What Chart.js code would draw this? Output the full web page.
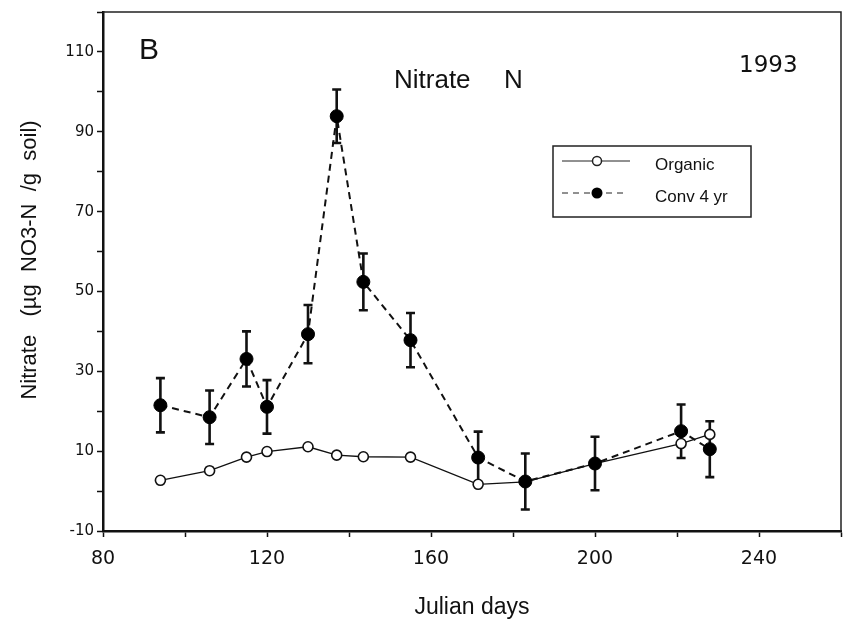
<!DOCTYPE html>
<html>
<head>
<meta charset="utf-8">
<script src="https://cdn.jsdelivr.net/npm/chart.js@4.4.1/dist/chart.umd.min.js"></script>
<style>
html,body{margin:0;padding:0;background:#fff}
</style>
</head>
<body>
<canvas id="myChart" width="857" height="624"></canvas>
<script>
// values
const days = [94, 106, 115, 120, 130, 137, 143.5, 155, 171.5, 183, 200, 221, 228]
const organic = [2.7, 5.1, 8.5, 9.9, 11.1, 9.0, 8.6, 8.5, 1.7, 2.3, 6.9, 11.9, 14.2]
const conv = [21.5, 18.5, 33.1, 21.1, 39.3, 93.9, 52.4, 37.8, 8.4, 2.4, 6.9, 15.0, 10.5]
const convErr = [6.8, 6.7, 6.9, 6.7, 7.3, 6.7, 7.1, 6.8, 6.5, 7.0, 6.7, 6.7, 7.0]
const xLabels = [80, 120, 160, 200, 240]
const yLabels = [-10, 10, 30, 50, 70, 90, 110]

const FONT = '"Liberation Sans", Arial, sans-serif'
const WIDE = '"DejaVu Sans", sans-serif'

// error bars for the conv series
const errorBars = {
    id: 'errorBars',
    beforeDatasetsDraw(chart){
        const ctx = chart.ctx
        const y = chart.scales.y
        const meta = chart.getDatasetMeta(0)
        ctx.save()
        ctx.strokeStyle = '#111'
        ctx.lineWidth = 2.6
        meta.data.forEach((pt, i) => {
            const top = y.getPixelForValue(conv[i] + convErr[i])
            const bot = y.getPixelForValue(conv[i] - convErr[i])
            ctx.beginPath()
            ctx.moveTo(pt.x, top); ctx.lineTo(pt.x, bot)
            ctx.moveTo(pt.x - 4.5, top); ctx.lineTo(pt.x + 4.5, top)
            ctx.moveTo(pt.x - 4.5, bot); ctx.lineTo(pt.x + 4.5, bot)
            ctx.stroke()
        })
        ctx.restore()
    }
}

// frame, panel texts, y title and the boxed legend
const decor = {
    id: 'decor',
    afterDraw(chart){
        const ctx = chart.ctx
        const a = chart.chartArea
        ctx.save()
        ctx.strokeStyle = '#222'
        ctx.lineWidth = 1.5
        ctx.beginPath()
        ctx.moveTo(a.left, a.top); ctx.lineTo(a.right, a.top); ctx.lineTo(a.right, a.bottom)
        ctx.stroke()

        ctx.fillStyle = '#111'
        ctx.textBaseline = 'middle'
        ctx.font = `30px ${FONT}`
        ctx.fillText('B', 139, 51)
        ctx.font = `26px ${FONT}`
        ctx.fillText('Nitrate', 394, 81)
        ctx.fillText('N', 504, 81)
        ctx.font = `23px ${WIDE}`
        ctx.fillText('1993', 739, 66)

        // y axis title
        ctx.save()
        ctx.translate(30, 260)
        ctx.rotate(-Math.PI / 2)
        ctx.textAlign = 'center'
        ctx.font = `22px ${FONT}`
        ctx.fillText('Nitrate   (µg  NO3-N  /g  soil)', 0, 0)
        ctx.restore()

        // legend box
        ctx.lineWidth = 1.5
        ctx.strokeRect(553, 146, 198, 71)
        ctx.lineWidth = 1
        ctx.beginPath()
        ctx.moveTo(562, 161); ctx.lineTo(630, 161)
        ctx.stroke()
        ctx.beginPath()
        ctx.arc(597, 161, 4.5, 0, Math.PI * 2)
        ctx.fillStyle = '#fff'; ctx.fill()
        ctx.lineWidth = 1.5; ctx.stroke()
        ctx.setLineDash([6, 5])
        ctx.lineWidth = 1
        ctx.beginPath()
        ctx.moveTo(562, 193); ctx.lineTo(626, 193)
        ctx.stroke()
        ctx.setLineDash([])
        ctx.beginPath()
        ctx.arc(597, 193, 5.5, 0, Math.PI * 2)
        ctx.fillStyle = '#000'; ctx.fill()
        ctx.fillStyle = '#111'
        ctx.font = `17px ${FONT}`
        ctx.fillText('Organic', 655, 165)
        ctx.fillText('Conv 4 yr', 655, 197)
        ctx.restore()
    }
}

const ctx = document.getElementById('myChart')

new Chart(ctx, {
    type: 'line',
    data: {
        datasets: [{
            label: 'Conv 4 yr',
            data: days.map((d, i) => ({x: d, y: conv[i]})),
            borderColor: '#111',
            borderWidth: 2,
            borderDash: [7, 5],
            pointRadius: 6.5,
            pointBackgroundColor: '#000',
            pointBorderColor: '#000',
            pointBorderWidth: 1,
            order: 1
        }, {
            label: 'Organic',
            data: days.map((d, i) => ({x: d, y: organic[i]})),
            borderColor: '#111',
            borderWidth: 1.3,
            pointRadius: 5,
            pointBackgroundColor: '#fff',
            pointBorderColor: '#111',
            pointBorderWidth: 1.6,
            order: 2
        }]
    },
    options: {
        responsive: false,
        animation: false,
        layout: { padding: { left: 0, right: 16, top: 12, bottom: 0 } },
        plugins: {
            legend: { display: false },
            tooltip: { enabled: false }
        },
        scales: {
            x: {
                type: 'linear',
                min: 80, max: 260,
                afterFit(scale){ scale.height = 93 },
                ticks: {
                    stepSize: 20,
                    color: '#111',
                    padding: 11,
                    maxRotation: 0,
                    autoSkip: false,
                    font: { family: WIDE, size: 19 },
                    callback: v => xLabels.includes(v) ? String(v) : ''
                },
                grid: { drawOnChartArea: false, tickLength: 6, tickColor: '#111', tickWidth: 1.5 },
                border: { color: '#111', width: 2.5 },
                title: {
                    display: true,
                    text: 'Julian days',
                    color: '#111',
                    font: { family: FONT, size: 23 },
                    padding: { top: 0, bottom: 3 }
                }
            },
            y: {
                min: -10, max: 120,
                afterFit(scale){ scale.width = 103 },
                ticks: {
                    stepSize: 10,
                    color: '#111',
                    padding: 3,
                    autoSkip: false,
                    font: { family: WIDE, size: 15 },
                    callback: v => yLabels.includes(v) ? String(v) : ''
                },
                grid: { drawOnChartArea: false, tickLength: 6, tickColor: '#111', tickWidth: 1.5 },
                border: { color: '#111', width: 2.5 }
            }
        }
    },
    plugins: [errorBars, decor]
})
</script>
</body>
</html>
